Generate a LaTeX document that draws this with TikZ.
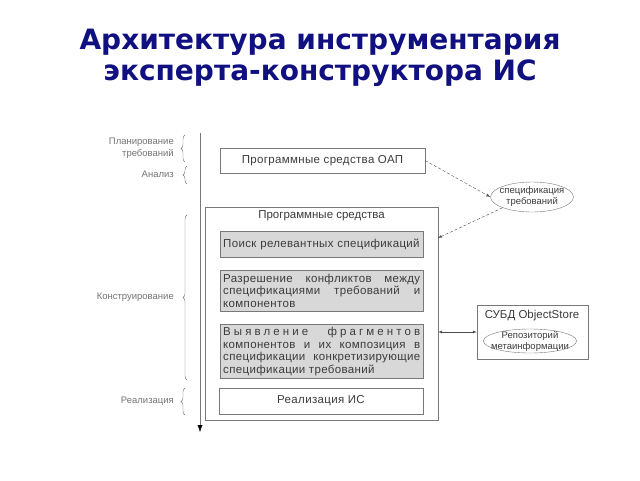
\documentclass[tikz,border=0pt]{standalone}
\usepackage{fontspec}
\setmainfont{Liberation Sans}
\newfontfamily\titlefont{DejaVu Sans}
\usetikzlibrary{shapes.geometric,decorations.pathreplacing,arrows,arrows.meta}
\definecolor{titleblue}{RGB}{16,16,128}
\definecolor{boxgray}{RGB}{216,216,216}
\definecolor{linegray}{RGB}{120,120,120}
\definecolor{textgray}{RGB}{60,60,60}

\begin{document}
\begin{tikzpicture}[x=1pt,y=-1pt,
    whitebox/.style={draw=linegray,fill=white,inner sep=3pt,text=textgray,
                     font=\addfontfeatures{LetterSpace=3}\fontsize{11.5}{12.5}\selectfont},
    graybox/.style={whitebox,fill=boxgray,text width=197,align=justify,
                    minimum width=203,anchor=north west},
    oval/.style={ellipse,draw=linegray,fill=white,align=center,
                 text=textgray,font=\fontsize{9.5}{11}\selectfont},
    stage/.style={anchor=east,align=right,text=black!55,inner sep=0pt,
                  font=\fontsize{9.5}{12}\selectfont},
    stagebrace/.style={draw=black!55,decorate,decoration={brace,amplitude=4}},
    flow/.style={-latex,draw=black!70,densely dashed,thin}]
  \useasboundingbox (0,0) rectangle (640,480);
  % title
  \node[align=center,text=titleblue,font=\titlefont\bfseries\fontsize{28}{31}\selectfont]
       (title) at (320,58) {Архитектура инструментария\\эксперта-конструктора ИС};
  % time axis
  \coordinate (axtop) at (200,133);
  \coordinate (axbot) at (200,432);
  \draw[-{Latex[length=7,width=5,color=black]},draw=linegray] (axtop) -- (axbot);
  % stages
  \node[stage] (plan) at (174,148) {Планирование\\требований};
  \draw[stagebrace] (185,162) -- (185,135);
  \node[stage] (anal) at (174,174) {Анализ};
  \draw[stagebrace] (187,184) -- (187,166);
  \node[stage] (constr) at (174,297) {Конструирование};
  \draw[stagebrace] (187,380) -- (187,215);
  \node[stage] (impl) at (174,401) {Реализация};
  \draw[stagebrace] (185,415) -- (185,388);
  % software
  \node[whitebox,minimum width=205,minimum height=25] (oap) at (322.5,160.5)
       {Программные средства ОАП};
  \node[draw=linegray,fill=white,minimum width=233,minimum height=213,inner sep=0pt]
       (tools) at (321.5,313.5) {};
  \node[text=textgray,font=\fontsize{11.5}{12}\selectfont] (toolstitle) at (321.5,216)
       {Программные средства};
  \node[graybox,minimum height=26,align=left] (search) at (220,231)
       {Поиск релевантных спецификаций};
  \node[graybox,minimum height=41] (resolve) at (220,270)
       {Разрешение конфликтов между\linebreak спецификациями требований и\linebreak компонентов};
  \node[graybox,minimum height=54] (compose) at (220,324)
       {{\addfontfeatures{LetterSpace=27}Выявление фрагментов}\linebreak
        компонентов и их композиция в\linebreak спецификации конкретизирующие\linebreak
        спецификации требований};
  \node[whitebox,minimum width=204,minimum height=26] (realis) at (321,401)
       {Реализация ИС};
  % specification and repository
  \node[oval,inner xsep=-3pt,inner ysep=0pt,minimum height=30] (spec) at (532,197)
       {спецификация\\требований};
  \node[draw=linegray,fill=white,minimum width=111,minimum height=54,inner sep=0pt]
       (dbms) at (532.5,332) {};
  \node[text=textgray,font=\fontsize{11.5}{12}\selectfont] (dbmstitle) at (532,316)
       {СУБД ObjectStore};
  \node[oval,inner xsep=-6pt,inner ysep=-3pt,minimum height=24] (repo) at (530,341)
       {Репозиторий\\метаинформации};
  % connectors
  \coordinate (toolsin) at (438,238);
  \draw[flow] (oap.east) -- (spec.west);
  \draw[flow] (spec.200) -- (toolsin);
  \draw[latex-latex,draw=black!70,thin] (tools.east |- dbms.west) -- (dbms.west);
\end{tikzpicture}
\end{document}
